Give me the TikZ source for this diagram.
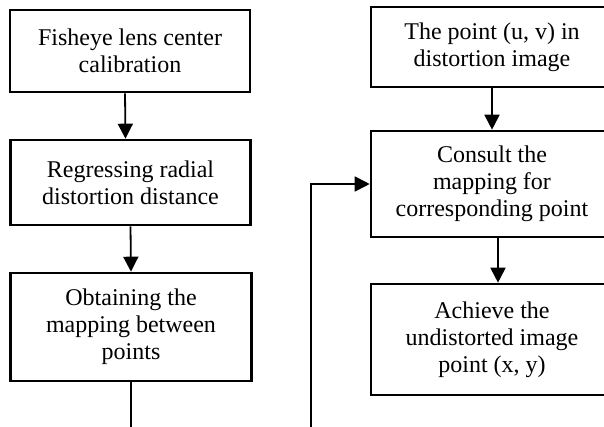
\documentclass[tikz,border=0pt]{standalone}
\usepackage{fontspec}
\setmainfont{Liberation Serif}
\usetikzlibrary{arrows.meta}
\tikzset{
  stepbox/.style={draw, line width=2.6pt, align=center, inner sep=0pt,
    font=\fontsize{24}{27}\selectfont},
  flow/.style={line width=1.8pt, -{Triangle[length=15pt,width=15pt]}},
  plain/.style={line width=1.8pt}
}
\begin{document}
\begin{tikzpicture}[x=1pt,y=-1pt]
  \useasboundingbox (0,0) rectangle (604,427);
  \clip (0,0) rectangle (604,427);
  % left column
  \node[stepbox, minimum width=240pt, minimum height=82pt] (b1) at (130,51)
    {Fisheye lens center\\calibration};
  \node[stepbox, minimum width=240pt, minimum height=85pt] (b2) at (130.5,182.5)
    {Regressing radial\\distortion distance};
  \node[stepbox, minimum width=241pt, minimum height=108pt] (b3) at (131,327)
    {Obtaining the\\mapping between\\points};
  % right column
  \node[stepbox, minimum width=242pt, minimum height=80pt] (b4) at (492,47)
    {The point (u, v) in\\distortion image};
  \node[stepbox, minimum width=242pt, minimum height=106pt] (b5) at (492,184)
    {Consult the\\mapping for\\corresponding point};
  \node[stepbox, minimum width=242pt, minimum height=111pt] (b6) at (492,339.5)
    {Achieve the\\undistorted image\\point (x, y)};
  % loose ends of the loop-back line
  \coordinate (outL) at (131,440);
  \coordinate (inR) at (311,440);
  % connectors
  \draw[flow] ([xshift=-5pt]b1.south) -- ([xshift=-5pt]b2.north);
  \draw[flow] (b2.south) -- (b3.north);
  \draw[plain] (b3.south) -- (outL);
  \draw[flow] (b4.south) -- (b5.north);
  \draw[flow] ([xshift=6pt]b5.south) -- ([xshift=6pt]b6.north);
  \draw[flow] (inR) |- (b5.west);
\end{tikzpicture}
\end{document}
